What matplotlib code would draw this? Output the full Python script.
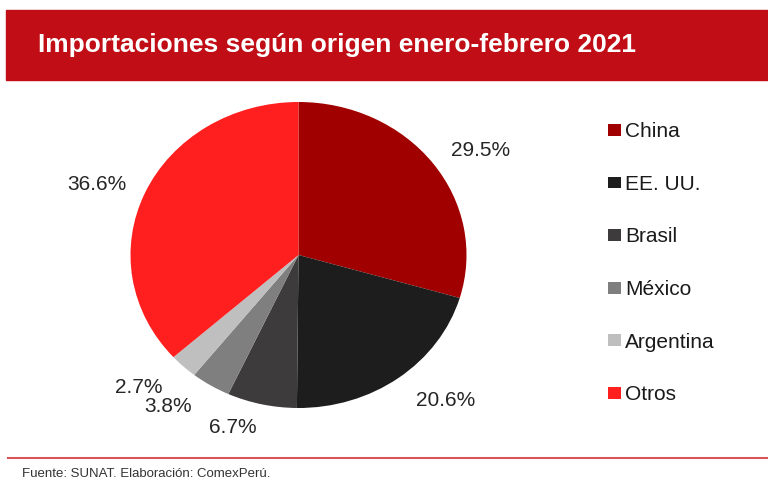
import matplotlib
matplotlib.use("Agg")
import matplotlib.pyplot as plt
from matplotlib.patches import Rectangle
from matplotlib.lines import Line2D
import numpy as np

plt.rcParams['font.family'] = ['Liberation Sans', 'DejaVu Sans']

title = "Importaciones según origen enero-febrero 2021"
categories = ["China", "EE. UU.", "Brasil", "México", "Argentina", "Otros"]
values = [29.5, 20.6, 6.7, 3.8, 2.7, 36.6]
colors = ["#A10000", "#1D1D1D", "#3D3B3C", "#7F7F7F", "#BFBFBF", "#FF1F1F"]
source = "Fuente: SUNAT. Elaboración: ComexPerú."

# label placement (angle in degrees, distance in radius units)
label_angles = [32.4, -47.4, -109.1, -128.0, -137.8, 159.1]
label_dist = [1.28, 1.29, 1.19, 1.26, 1.285, 1.283]

W, H = 768, 484
fig = plt.figure(figsize=(W / 100, H / 100), dpi=100)
ax = fig.add_axes([0, 0, 1, 1])
ax.set_xlim(0, W)
ax.set_ylim(0, H)
ax.axis('off')

# banner
ax.add_patch(Rectangle((6, H - 80), W - 6, 70, color="#C00D16", zorder=1))
ax.text(38, H - 45, title, color="white", fontsize=19, fontweight="bold",
        va="center", ha="left", zorder=2)

# pie (slightly elliptical, as in the reference)
cx, cy, rx, ry = 298.5, 255, 168, 153
pax = fig.add_axes([(cx - rx) / W, (H - cy - ry) / H, 2 * rx / W, 2 * ry / H])
wedges, _ = pax.pie(values, colors=colors, startangle=90, counterclock=False,
                    radius=1, wedgeprops=dict(linewidth=0))
pax.set_aspect('auto')
pax.set_xlim(-1, 1)
pax.set_ylim(-1, 1)
pax.axis('off')

for v, a, d in zip(values, label_angles, label_dist):
    t = np.deg2rad(a)
    pax.text(d * np.cos(t), d * np.sin(t), f"{v:.1f}%", clip_on=False,
             fontsize=15, color="#262626", ha="center", va="center")

leg = ax.legend(wedges, categories, loc="upper left",
                bbox_to_anchor=(600 / W, 1 - 114 / H), frameon=False,
                fontsize=15, handlelength=0.6, handleheight=0.5,
                handletextpad=0.2, labelspacing=1.61, borderaxespad=0)
for t in leg.get_texts():
    t.set_color("#1a1a1a")

# footer
ax.add_line(Line2D([8, W], [H - 458, H - 458], color="#D9535A", linewidth=1.5))
ax.text(22, H - 474, source, fontsize=9.5, color="#333333", va="center", ha="left")

fig.savefig("out.png", dpi=100)
